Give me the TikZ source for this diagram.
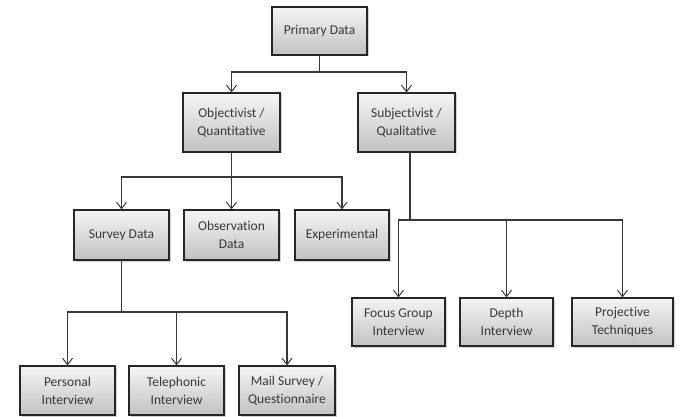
\documentclass[tikz,border=0pt]{standalone}
\usepackage{fontspec}
\setmainfont[Ligatures=NoCommon]{Carlito}
\usetikzlibrary{arrows.meta,shadows}
\begin{document}
\begin{tikzpicture}[x=1pt,y=-1pt,
  box/.style={draw=black!85, line width=1.1pt, top color=gray!8, bottom color=gray!48,
    drop shadow={shadow xshift=1.5pt, shadow yshift=-1.5pt, opacity=0.35},
    align=center, font=\fontsize{13.5}{18}\selectfont, text=black!78, inner sep=0pt},
  conn/.style={draw=black!78, line width=1.1pt},
  arr/.style={conn, -{Straight Barb[length=6.5pt,width=10pt,line width=1pt]}}]
\useasboundingbox (0,0) rectangle (683,417);
\node[box, minimum width=95pt, minimum height=48pt] (pd) at (319.5,31) {Primary Data};
\node[box, minimum width=97pt, minimum height=59pt] (obj) at (231.5,122.5) {Objectivist /\\Quantitative};
\node[box, minimum width=97pt, minimum height=59pt] (sub) at (406.5,122.5) {Subjectivist /\\Qualitative};
\node[box, minimum width=95pt, minimum height=50pt] (sur) at (121.5,235) {Survey Data};
\node[box, minimum width=95pt, minimum height=50pt] (obs) at (231.5,235) {Observation\\Data};
\node[box, minimum width=94pt, minimum height=50pt] (exp) at (342,235) {Experimental};
\node[box, minimum width=93pt, minimum height=48pt] (foc) at (398.5,322) {Focus Group\\Interview};
\node[box, minimum width=93pt, minimum height=48pt] (dep) at (506.5,322) {Depth\\Interview};
\node[box, minimum width=101pt, minimum height=48pt] (pro) at (622.5,322) {Projective\\Techniques};
\node[box, minimum width=95pt, minimum height=49pt] (per) at (67.5,390.5) {Personal\\Interview};
\node[box, minimum width=95pt, minimum height=49pt] (tel) at (176.5,390.5) {Telephonic\\Interview};
\node[box, minimum width=96pt, minimum height=49pt] (mai) at (287,390.5) {Mail Survey /\\Questionnaire};
% level 1
\coordinate (j1) at (319.5,72);
\draw[conn] (pd.south) -- (j1);
\draw[arr] (j1) -| (obj.north);
\draw[arr] (j1) -| (sub.north);
% objectivist
\coordinate (j2) at (231.5,177);
\draw[conn] (obj.south) -- (j2);
\draw[arr] (j2) -| (sur.north);
\draw[arr] (j2) -- (obs.north);
\draw[arr] (j2) -| (exp.north);
% subjectivist
\coordinate (j3a) at (410,152);
\coordinate (j3) at (410,220);
\coordinate (j3l) at (398.5,220);
\draw[conn] (j3a) -- (j3);
\draw[arr] (j3) -- (j3l) -- (foc.north);
\draw[arr] (j3) -| (dep.north);
\draw[arr] (j3) -| (pro.north);
% survey
\coordinate (j4) at (121.5,312);
\draw[conn] (sur.south) -- (j4);
\draw[arr] (j4) -| (per.north);
\draw[arr] (j4) -| (tel.north);
\draw[arr] (j4) -| (mai.north);
\end{tikzpicture}
\end{document}
